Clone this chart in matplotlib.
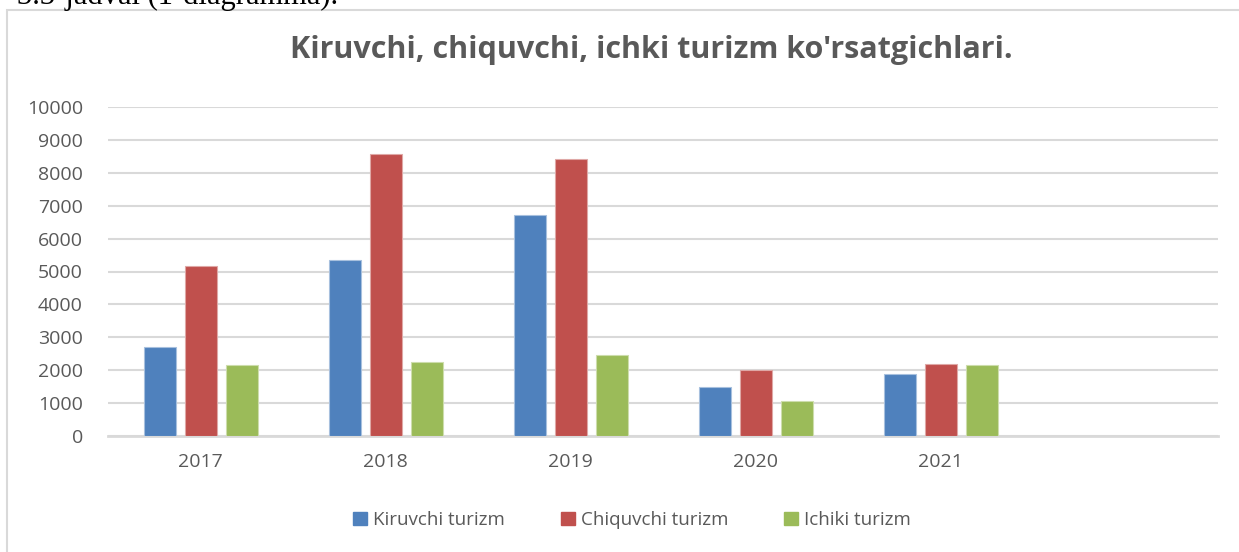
import matplotlib
matplotlib.use("Agg")
import matplotlib.pyplot as plt
from matplotlib import patches
import numpy as np

# data
years = ["2017", "2018", "2019", "2020", "2021", ""]
kiruvchi = [2700, 5340, 6730, 1500, 1880]
chiquvchi = [5170, 8570, 8420, 2000, 2190]
ichki = [2150, 2260, 2460, 1050, 2150]
series_names = ["Kiruvchi turizm", "Chiquvchi turizm", "Ichiki turizm"]
colors = ["#4F81BD", "#C0504D", "#9BBB59"]
edges = ["#A7C0DE", "#DFA8A6", "#CDDDAC"]

W, H = 1239, 552
fig = plt.figure(figsize=(W / 100, H / 100), dpi=100)
fig.patch.set_facecolor("white")

# chart frame (runs off right and bottom edges)
fig.add_artist(patches.Rectangle((7 / W, -0.05), 1.1, 1 - 10 / H + 0.05,
                                 transform=fig.transFigure, fill=False,
                                 edgecolor="#D9D9D9", linewidth=1.5))

# cut-off caption from the document above the chart
fig.text(338 / W, 1 - 4 / H, "3.3-jadval (1-diagramma).", family="Liberation Serif",
         fontsize=22, color="black", va="baseline", ha="right")

ax = fig.add_axes([108 / W, 1 - 436 / H, (1218 - 108) / W, (436 - 107) / H])
x = np.arange(len(years))
bw = 32 / 185
off = 41 / 185
for i, (vals, c, e, name) in enumerate(zip([kiruvchi, chiquvchi, ichki], colors, edges, series_names)):
    xs = x[:len(vals)] + (i - 1) * off
    ax.bar(xs, vals, width=bw, color=c, edgecolor=e, linewidth=0.8, label=name, zorder=3)

ax.set_xlim(-0.5, len(years) - 0.5)
ax.set_ylim(0, 10000)
ax.set_yticks(np.arange(0, 10001, 1000))
ax.set_xticks(x)
ax.set_xticklabels(years)
ax.yaxis.grid(True, color="#D9D9D9", linewidth=1.5, zorder=0)
for s in ["top", "right", "left"]:
    ax.spines[s].set_visible(False)
ax.spines["bottom"].set_color("#D9D9D9")
ax.spines["bottom"].set_linewidth(2)
ax.tick_params(axis="both", length=0, labelsize=14, labelcolor="#595959")
ax.tick_params(axis="y", pad=18)
ax.tick_params(axis="x", pad=12)
for lbl in ax.get_xticklabels() + ax.get_yticklabels():
    lbl.set_family("Open Sans")

fig.text(651 / W, 1 - 50 / H, "Kiruvchi, chiquvchi, ichki turizm ko'rsatgichlari.",
         family="Open Sans", fontweight="bold", fontsize=22, color="#595959",
         ha="center", va="center")

handles = [patches.Patch(facecolor=c, edgecolor=c) for c in colors]
fig.legend(handles, series_names, loc="center", bbox_to_anchor=(632 / W, 1 - 520 / H),
           ncol=3, frameon=False, handlelength=0.75, handleheight=0.75,
           handletextpad=0.3, columnspacing=3.0,
           prop={"family": "Open Sans", "size": 13.5}, labelcolor="#595959")

fig.savefig("out.png", dpi=100, facecolor="white")
